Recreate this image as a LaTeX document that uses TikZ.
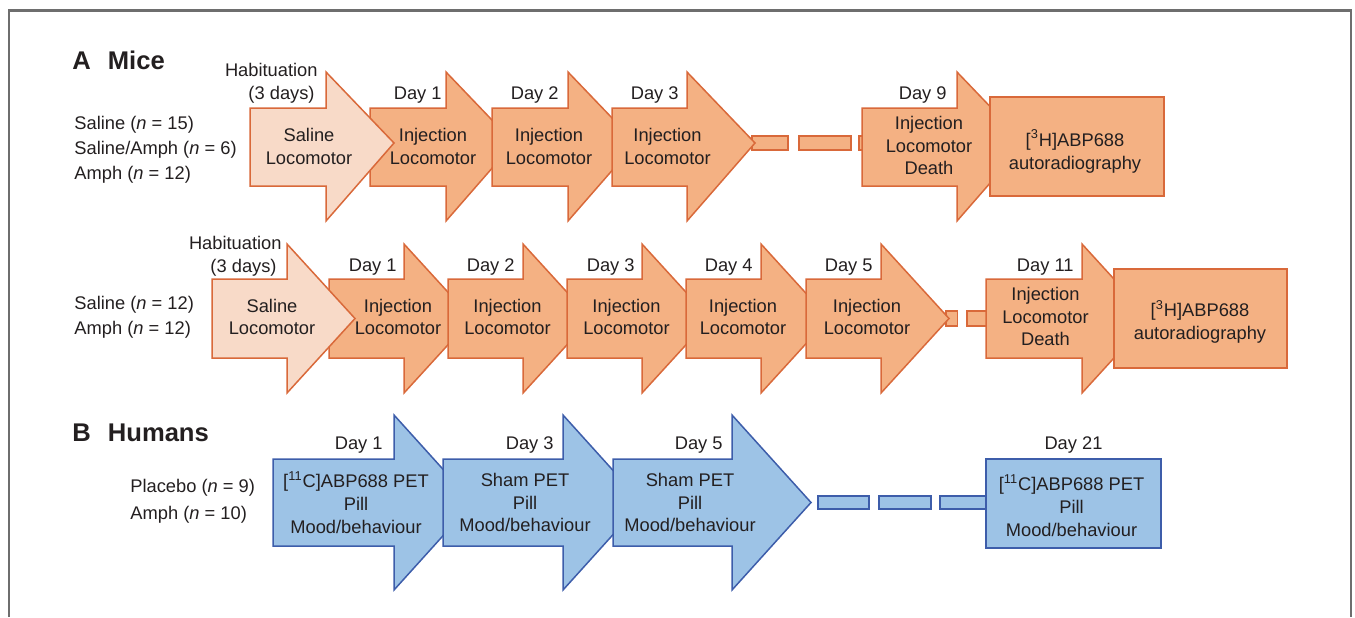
\documentclass[tikz,border=0pt]{standalone}
\usepackage{fontspec}
\setmainfont{Liberation Sans}
\definecolor{ofill}{HTML}{F4B183}
\definecolor{lfill}{HTML}{F8DAC8}
\definecolor{oline}{HTML}{D9693A}
\definecolor{bfill}{HTML}{9DC3E6}
\definecolor{bline}{HTML}{3D5DAA}
\definecolor{framec}{HTML}{6E6E6E}
\definecolor{tc}{HTML}{231F20}
\tikzset{
  txt/.style={font=\fontsize{9.15pt}{11.4pt}\selectfont, text=tc, inner sep=0pt, align=center},
  daylab/.style={txt, anchor=base east},
  grp/.style={txt, align=left, anchor=west},
  head/.style={font=\fontsize{12.8pt}{14pt}\selectfont\bfseries, text=tc, inner sep=0pt, anchor=base west},
  oshape/.style={fill=ofill, draw=oline, line width=0.75pt, line join=miter},
  lshape/.style={fill=lfill, draw=oline, line width=0.75pt, line join=miter},
  bshape/.style={fill=bfill, draw=bline, line width=0.75pt, line join=miter},
}
\newcommand\setrow[5]{\def\rBT{#1}\def\rBB{#2}\def\rHT{#3}\def\rHB{#4}\def\rTY{#5}}
\newcommand\blockarr[4]{\draw[#1] (#2,\rBT) -- (#3,\rBT) -- (#3,\rHT) -- (#4,\rTY) -- (#3,\rHB) -- (#3,\rBB) -- (#2,\rBB) -- cycle;}
\begin{document}
\begin{tikzpicture}[x=0.5pt,y=-0.5pt]
\useasboundingbox (0,0) rectangle (1355,617);
% frame
\draw[line width=1.25pt, framec] (9,617) -- (9,10.5) -- (1351,10.5) -- (1351,617);

% ---------------- Row A1 ----------------
\setrow{108}{186}{72}{221}{143}
\blockarr{oshape}{370}{446}{514}
\blockarr{oshape}{492}{568}{636}
\draw[oshape] (752,136) rectangle (788,150);
\blockarr{oshape}{612}{687}{755}
\draw[oshape] (799,136) rectangle (851,150);
\draw[oshape] (859,136) rectangle (911,150);
\blockarr{oshape}{862}{957}{1025}
\draw[oshape] (990,97) rectangle (1164,196);
\blockarr{lshape}{250}{326}{394}

\node[head] (hA) at (72,69) {A\hspace{8.5pt}Mice};
\node[grp, font=\fontsize{9.15pt}{12.5pt}\selectfont] (gA1) at (74,150) {Saline (\textit{n} = 15)\\Saline/Amph (\textit{n} = 6)\\Amph (\textit{n} = 12)};
\node[txt, align=right, anchor=east] (habA) at (318,83.5) {Habituation\\(3 days)\kern1.5pt};
\node[daylab] (dA1) at (442,99.5) {Day 1};
\node[daylab] (dA2) at (559,99.5) {Day 2};
\node[daylab] (dA3) at (679,99.5) {Day 3};
\node[daylab] (dA9) at (947,99.5) {Day 9};
\node[txt] (tAh) at (309,146.5) {Saline\\Locomotor};
\node[txt] (tA1) at (433,146.5) {Injection\\Locomotor};
\node[txt] (tA2) at (549,146.5) {Injection\\Locomotor};
\node[txt] (tA3) at (667.5,146.5) {Injection\\Locomotor};
\node[txt] (tA9) at (929,145.5) {Injection\\Locomotor\\Death};
\node[txt] (tAb) at (1075,151.4) {[\textsuperscript{3}H]ABP688\\autoradiography};

% ---------------- Row A2 ----------------
\setrow{279}{358}{244}{393}{318.5}
\blockarr{oshape}{329}{404}{472}
\blockarr{oshape}{448}{523}{591}
\blockarr{oshape}{567}{642}{710}
\blockarr{oshape}{686}{761}{829}
\draw[oshape] (946,311) rectangle (957.5,326);
\blockarr{oshape}{806}{881}{949}
\draw[oshape] (967,311) rectangle (1019,326);
\blockarr{oshape}{986}{1082}{1150}
\draw[oshape] (1114,269) rectangle (1287,368);
\blockarr{lshape}{212}{287}{355}

\node[grp, font=\fontsize{9.15pt}{12.5pt}\selectfont] (gA2) at (74,317.4) {Saline (\textit{n} = 12)\\Amph (\textit{n} = 12)};
\node[txt, align=right, anchor=east] (habB) at (282,255.9) {Habituation\\(3 days)\kern2.5pt};
\node[daylab] (dB1) at (397,271.5) {Day 1};
\node[daylab] (dB2) at (515,271.5) {Day 2};
\node[daylab] (dB3) at (635,271.5) {Day 3};
\node[daylab] (dB4) at (753,271.5) {Day 4};
\node[daylab] (dB5) at (873,271.5) {Day 5};
\node[daylab] (dB11) at (1074,271.5) {Day 11};
\node[txt] (tBh) at (272,317) {Saline\\Locomotor};
\node[txt] (tB1) at (398,317) {Injection\\Locomotor};
\node[txt] (tB2) at (507.5,317) {Injection\\Locomotor};
\node[txt] (tB3) at (626.5,317) {Injection\\Locomotor};
\node[txt] (tB4) at (743,317) {Injection\\Locomotor};
\node[txt] (tB5) at (867,317) {Injection\\Locomotor};
\node[txt] (tB11) at (1045.5,316.5) {Injection\\Locomotor\\Death};
\node[txt] (tBb) at (1200,321.9) {[\textsuperscript{3}H]ABP688\\autoradiography};

% ---------------- Row B ----------------
\setrow{459}{546}{415}{590}{502.5}
\draw[bshape] (818,496) rectangle (869,509);
\draw[bshape] (879,496) rectangle (931,509);
\draw[bshape] (940,496) rectangle (990,509);
\blockarr{bshape}{273}{394}{473}
\blockarr{bshape}{443}{563}{642}
\blockarr{bshape}{613}{732}{811}
\draw[bshape] (986,459) rectangle (1161,548);

\node[head] (hB) at (72,441) {B\hspace{8.5pt}Humans};
\node[grp, font=\fontsize{9.15pt}{13.5pt}\selectfont] (gB) at (130,501.4) {Placebo (\textit{n} = 9)\\Amph (\textit{n} = 10)};
\node[daylab] (dC1) at (383,449.5) {Day 1};
\node[daylab] (dC3) at (554,449.5) {Day 3};
\node[daylab] (dC5) at (723,449.5) {Day 5};
\node[txt, anchor=base] (dC21) at (1073.5,449.5) {Day 21};
\node[txt] (tC1) at (356,502.5) {[\textsuperscript{11}C]ABP688 PET\\Pill\\Mood/behaviour};
\node[txt] (tC3) at (525,502.5) {Sham PET\\Pill\\Mood/behaviour};
\node[txt] (tC5) at (690,502.5) {Sham PET\\Pill\\Mood/behaviour};
\node[txt] (tCb) at (1071.5,505.5) {[\textsuperscript{11}C]ABP688 PET\\Pill\\Mood/behaviour};
\end{tikzpicture}
\end{document}
